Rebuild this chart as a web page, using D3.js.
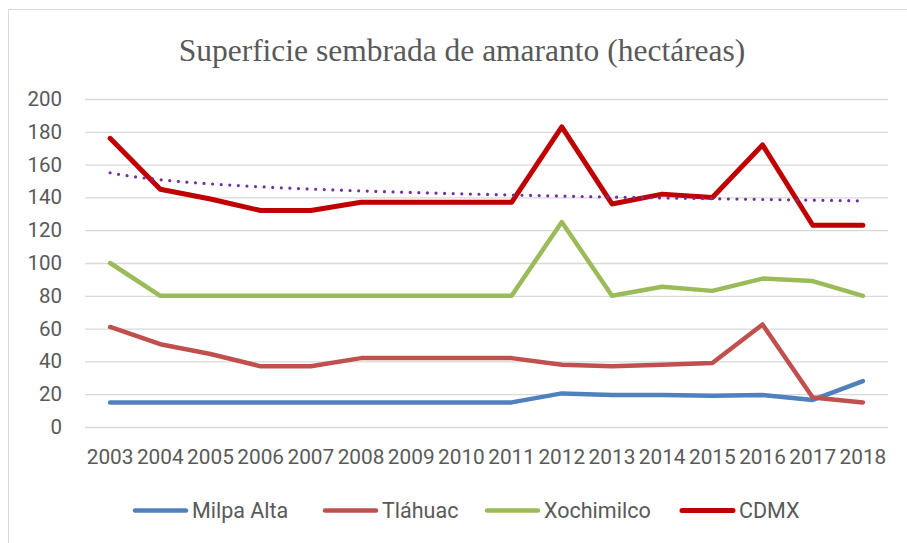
<!DOCTYPE html>
<html>
<head>
<meta charset="utf-8">
<title>Superficie sembrada de amaranto</title>
<script src="https://d3js.org/d3.v7.min.js"></script>
<style>
    body { margin: 0; background: #ffffff; }
    svg { display: block; }
</style>
</head>
<body>
<div id="chart"></div>
<script>
// Data
const years = ['2003', '2004', '2005', '2006', '2007', '2008', '2009', '2010',
               '2011', '2012', '2013', '2014', '2015', '2016', '2017', '2018'];
const milpaAlta = [15, 15, 15, 15, 15, 15, 15, 15, 15, 20.5, 19.5, 19.5, 19, 19.5, 16.5, 28];
const tlahuac = [61, 50.5, 44.5, 37, 37, 42, 42, 42, 42, 38, 37, 38, 39, 62.5, 18, 15];
const xochimilco = [100, 80, 80, 80, 80, 80, 80, 80, 80, 125, 80, 85.5, 83, 90.5, 89, 80];
const cdmx = [176, 145, 139, 132, 132, 137, 137, 137, 137, 183, 136, 142, 140, 172, 123, 123];
const yTicks = [0, 20, 40, 60, 80, 100, 120, 140, 160, 180, 200];

const seriesList = [
    { name: 'Milpa Alta', values: milpaAlta, color: '#4F81BD', width: 4.5 },
    { name: 'Tláhuac', values: tlahuac, color: '#C0504D', width: 4.5 },
    { name: 'Xochimilco', values: xochimilco, color: '#9BBB59', width: 4.5 },
    { name: 'CDMX', values: cdmx, color: '#C00000', width: 5 }
];

const W = 907, H = 543;
const plot = { left: 85, right: 888, top: 99, bottom: 427 };
const textColor = '#595959';
const font = 'Roboto, "Open Sans", sans-serif';

const svg = d3.select('#chart').append('svg')
    .attr('width', W)
    .attr('height', H);

// chart border
svg.append('rect')
    .attr('x', 8.5).attr('y', 9.5)
    .attr('width', 905).attr('height', 545)
    .attr('fill', '#fff')
    .attr('stroke', '#d9d9d9')
    .attr('stroke-width', 1);

// Title
svg.append('text')
    .attr('x', 462).attr('y', 61)
    .attr('text-anchor', 'middle')
    .style('font-family', '"Liberation Serif", "Times New Roman", serif')
    .style('font-size', '31.5px')
    .style('fill', textColor)
    .text('Superficie sembrada de amaranto (hectáreas)');

// Scales
const x = d3.scaleBand()
    .domain(years)
    .range([plot.left, plot.right]);

const y = d3.scaleLinear()
    .domain([0, 200])
    .range([plot.bottom, plot.top]);

const xc = d => x(d) + x.bandwidth() / 2;

// Gridlines + y labels
const yAxis = d3.axisLeft(y)
    .tickValues(yTicks)
    .tickSize(-(plot.right - plot.left))
    .tickPadding(23);

const gy = svg.append('g')
    .attr('transform', `translate(${plot.left},0)`)
    .call(yAxis);
gy.select('.domain').remove();
gy.selectAll('.tick line')
    .attr('stroke', '#d9d9d9')
    .attr('stroke-width', 1.3);
gy.selectAll('.tick text')
    .style('font-family', font)
    .style('font-size', '20.5px')
    .style('fill', textColor);

// x labels
const xAxis = d3.axisBottom(x).tickSize(0).tickPadding(22);
const gx = svg.append('g')
    .attr('transform', `translate(0,${plot.bottom})`)
    .call(xAxis);
gx.select('.domain').remove();
gx.selectAll('.tick text')
    .style('font-family', font)
    .style('font-size', '20.8px')
    .style('fill', textColor);

// Series lines
const line = d3.line()
    .x((d, i) => xc(years[i]))
    .y(d => y(d));

seriesList.forEach(s => {
    svg.append('path')
        .datum(s.values)
        .attr('d', line)
        .attr('fill', 'none')
        .attr('stroke', s.color)
        .attr('stroke-width', s.width)
        .attr('stroke-linejoin', 'round')
        .attr('stroke-linecap', 'round');
});

// Logarithmic trendline for CDMX (least squares on ln(t), t = 1..n)
const lnT = cdmx.map((v, i) => Math.log(i + 1));
const mL = d3.mean(lnT), mY = d3.mean(cdmx);
const b = d3.sum(lnT, (l, i) => (l - mL) * (cdmx[i] - mY)) / d3.sum(lnT, l => (l - mL) * (l - mL));
const a = mY - b * mL;
const tx = d3.scaleLinear().domain([1, years.length]).range([xc(years[0]), xc(years[years.length - 1])]);
const trendPts = d3.range(1, years.length + 0.001, 0.1).map(t => [tx(t), y(a + b * Math.log(t))]);

svg.append('path')
    .datum(trendPts)
    .attr('d', d3.line())
    .attr('fill', 'none')
    .attr('stroke', '#7030A0')
    .attr('stroke-width', 3.2)
    .attr('stroke-linecap', 'round')
    .attr('stroke-dasharray', '0 8.6');

// Legend
const legendX = [133, 323, 485, 680];
const legendY = 510.5;
const lg = svg.append('g');
seriesList.forEach((s, i) => {
    lg.append('line')
        .attr('x1', legendX[i] + 2).attr('x2', legendX[i] + 53)
        .attr('y1', legendY).attr('y2', legendY)
        .attr('stroke', s.color)
        .attr('stroke-width', s.width)
        .attr('stroke-linecap', 'round');
    lg.append('text')
        .attr('x', legendX[i] + 59)
        .attr('y', legendY + 7.5)
        .style('font-family', font)
        .style('font-size', '21.5px')
        .style('fill', textColor)
        .text(s.name);
});
</script>
</body>
</html>
